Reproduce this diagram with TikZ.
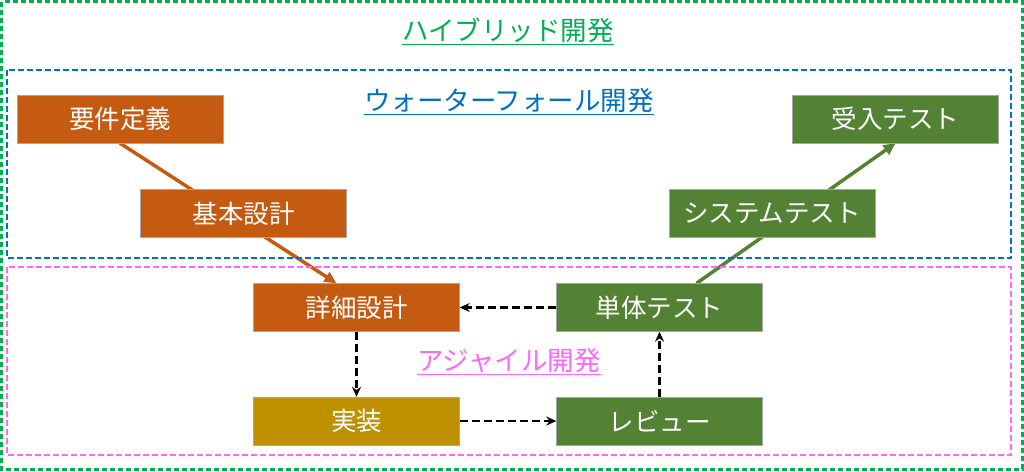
\documentclass[tikz,border=0pt]{standalone}
\usepackage{fontspec}
\setmainfont{Noto Sans CJK JP}
\usetikzlibrary{arrows.meta,backgrounds}

\definecolor{upper}{HTML}{C55A11}
\definecolor{impl}{HTML}{BF9000}
\definecolor{test}{HTML}{548235}
\definecolor{hybrid}{HTML}{00B050}
\definecolor{water}{HTML}{0070C0}
\definecolor{agile}{HTML}{FF66FF}

\def\boxwidth{206pt}
\def\boxheight{48pt}

\begin{document}
\begin{tikzpicture}[x=1pt,y=-1pt]
    \tikzstyle{phase}=[draw=gray!70,minimum width=\boxwidth,minimum height=\boxheight,inner sep=0pt,text=white,font=\fontsize{25.5pt}{28pt}\selectfont]
    \tikzstyle{design phase}=[phase, fill=upper];
    \tikzstyle{impl phase}=[phase, fill=impl];
    \tikzstyle{test phase}=[phase, fill=test];
    \tikzstyle{frame}=[dashed, line width=2pt]
    \tikzstyle{title}=[font=\fontsize{26.5pt}{30pt}\selectfont]
    \tikzstyle{flow}=[-{Triangle[length=12pt,width=11pt]}, line width=3.5pt]
    \tikzstyle{loop}=[-{Stealth[length=10pt,width=9pt]}, line width=2.5pt, dash pattern=on 8pt off 4pt]

    \useasboundingbox (0,0) rectangle (1024,471);

    % Draw the three frames
    \draw[frame, hybrid, line width=3pt, dash pattern=on 5pt off 3pt] (1.5,1.5) rectangle (1022,469);
    \draw[frame, water, dash pattern=on 6pt off 3pt] (7,70) rectangle (1011,258);
    \draw[frame, agile, dash pattern=on 6pt off 3pt] (7,267) rectangle (1011,455);

    % Frame titles
    \node[title, text=hybrid] (hybrid) at (508,31) {\underline{ハイブリッド開発}};
    \node[title, text=water] (water) at (509,102) {\underline{ウォーターフォール開発}};
    \node[title, text=agile] (agile) at (509,362) {\underline{アジャイル開発}};

    % Draw the waterfall phases
    \node[design phase] (req) at (120,119) {要件定義};
    \node[design phase] (basic) at (243.5,213.5) {基本設計};
    \node[design phase] (detail) at (356.5,307.5) {詳細設計};
    \node[impl phase] (code) at (356.5,421) {実装};
    \node[test phase] (review) at (659.5,421) {レビュー};
    \node[test phase] (unit) at (659.5,307.5) {単体テスト};
    \node[test phase] (system) at (772,213.5) {システムテスト};
    \node[test phase] (accept) at (895.5,119) {受入テスト};

    % The V runs behind the middle boxes
    \begin{pgfonlayer}{background}
        \draw[flow, upper] (req.south) -- ([xshift=-20pt]detail.north);
        \draw[flow, test] ([xshift=37pt]unit.north) -- (accept.south);
    \end{pgfonlayer}

    % Agile loop
    \draw[loop] (unit.west) -- (detail.east);
    \draw[loop] (detail.south) -- (code.north);
    \draw[loop] (code.east) -- (review.west);
    \draw[loop] (review.north) -- (unit.south);
\end{tikzpicture}
\end{document}
